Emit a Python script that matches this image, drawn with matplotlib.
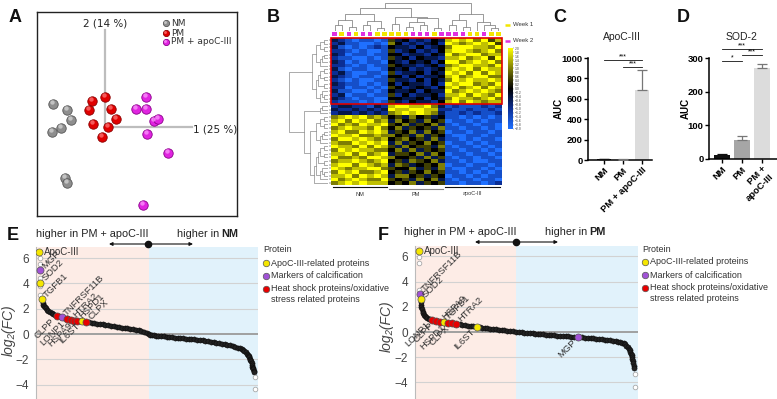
import numpy as np
import matplotlib
matplotlib.use("Agg")
import matplotlib.pyplot as plt
from matplotlib.colors import LinearSegmentedColormap
from matplotlib.patches import Rectangle

plt.rcParams['font.family'] = ['Liberation Sans', 'DejaVu Sans']

# ======================= DATA =======================
# --- A: PCA scores ---
pca_groups = ["NM", "PM", "PM + apoC-III"]
pca_axis_labels = ["1 (25 %)", "2 (14 %)"]
nm_pc1 = [-5.2, -3.8, -3.4, -4.4, -5.3, -4.0, -3.8]
nm_pc2 = [2.3, 1.7, 0.7, -0.1, -0.5, -5.1, -5.6]
pm_pc1 = [0.0, -1.3, -1.6, 0.6, 1.1, -1.2, 0.3, -0.3]
pm_pc2 = [3.0, 2.6, 1.7, 1.8, 0.8, 0.3, 0.0, -1.0]
apo_pc1 = [4.1, 3.1, 4.1, 4.9, 5.3, 4.2, 6.3, 3.8]
apo_pc2 = [3.0, 1.8, 1.8, 0.6, 0.8, -0.7, -2.6, -7.8]

# --- B: heatmap (digits 0..8 -> z = -2..+2) ---
heat_rows = [
    "32101101 53423243 78786857",
    "23110010 64232342 87678785",
    "31010121 43324234 68887768",
    "22101001 52342324 78876786",
    "32011011 44233243 86788677",
    "21100101 53424332 77867858",
    "32010110 43243424 88678786",
    "22101011 54332342 67887768",
    "31011001 43423234 78786877",
    "23100110 52334243 87868687",
    "32101101 44242334 78678866",
    "21010011 53324243 68787787",
    "32110101 42433242 87886768",
    "22011010 54234324 78678687",
    "31100101 43342433 86787876",
    "23011011 52423342 77868768",
    "32101100 44334243 68776786",
    "21110101 53243324 78687677",
    "23322132 78877863 12111212",
    "32232323 87788772 21121121",
    "23323232 67878763 11212112",
    "67878676 45364534 11010101",
    "78687867 36453645 01101011",
    "86768778 54635463 10110110",
    "67877686 46354536 11011010",
    "78668787 35463645 01101101",
    "87786676 64536354 10011011",
    "68878767 45645363 11010110",
    "76687878 36354645 01101011",
    "87768687 53645536 10110101",
    "68787766 46363545 11011010",
    "77868678 35546364 01101101",
    "86676887 64453635 10110110",
    "67787678 45365463 11010011",
    "78868767 36534546 01101101",
    "87677886 54463536 10011010",
    "68786678 45354645 11010101",
    "77868787 36645354 01101011",
    "86787668 54536463 10110110",
    "67878777 45463545 11011012",
]
heat_col_groups = ["NM", "PM", "apoC-III"]
heat_col_weeks = [2, 1, 2, 1, 2, 2, 1, 1, 1, 1, 1, 2, 2, 2, 1, 2, 2, 2, 2, 1, 1, 2, 1, 1]
col_gaps = [2, 4, 1.5, 6, 2, 3.5, 1, 8, 2.5, 5, 1.5, 3, 2, 4.5, 1, 10, 2, 4, 1.5, 6, 3, 2, 1]
row_gaps = [1, 2, 1, 3, 1, 1.5, 2, 4, 1, 2, 1, 2.5, 1, 3, 1.5, 1, 2,
            10,
            1.5, 2, 6, 1, 2, 1, 3, 1, 1.5, 2, 4.5, 1, 2, 1, 2.5, 1, 3, 1.5, 1, 2, 3.5]
week_labels = ["Week 1", "Week 2"]

# --- C / D: bar charts ---
c_groups = ["NM", "PM", "PM + apoC-III"]
c_auc = [5, 4, 685]
c_err = [2, 1, 195]
d_groups = ["NM", "PM", "PM +\napoC-III"]
d_auc = [13, 55, 270]
d_err = [2, 13, 13]

# --- E: ranked log2(FC), PM + apoC-III vs NM ---
e_rank = [30, 33, 36, 40, 45, 50, 55, 62, 70, 78, 86, 95, 105, 115, 125, 138, 150, 162, 175, 188,
          200, 212, 225, 238, 250, 262, 275, 288, 300, 312, 325, 338, 350, 363, 375, 388, 400, 412,
          425, 438, 450, 462, 475, 488, 498, 508, 515, 522, 530, 540, 550, 562, 575, 588, 600, 612,
          625, 638, 650, 663, 675, 688, 700, 712, 725, 738, 750, 762, 775, 788, 800, 813, 825, 838,
          850, 862, 875, 888, 898, 908, 918, 926, 933, 939, 945, 950, 955, 958, 961, 964, 966, 968,
          971, 973, 975, 977, 978, 980, 981]
e_fc = [2.43, 2.32, 2.22, 2.12, 2.02, 1.93, 1.85, 1.77, 1.70, 1.62, 1.52, 1.46, 1.40, 1.34, 1.29,
        1.23, 1.18, 1.13, 1.09, 1.06, 1.03, 1.00, 0.97, 0.93, 0.90, 0.87, 0.83, 0.79, 0.76, 0.72,
        0.69, 0.65, 0.62, 0.58, 0.55, 0.51, 0.48, 0.44, 0.41, 0.37, 0.33, 0.29, 0.24, 0.17, 0.11,
        0.02, -0.05, -0.09, -0.11, -0.13, -0.15, -0.17, -0.19, -0.21, -0.23, -0.25, -0.28, -0.30,
        -0.32, -0.34, -0.36, -0.39, -0.41, -0.43, -0.46, -0.48, -0.51, -0.55, -0.58, -0.62, -0.65,
        -0.69, -0.73, -0.77, -0.81, -0.85, -0.90, -0.95, -1.01, -1.07, -1.14, -1.21, -1.27, -1.35,
        -1.45, -1.55, -1.67, -1.76, -1.85, -1.96, -2.06, -2.17, -2.30, -2.45, -2.59, -2.70, -2.80,
        -2.90, -2.99]
e_open_rank = [18, 18, 18, 19, 20, 985, 985]
e_open_fc = [6.0, 5.56, 4.42, 3.76, 3.1, -3.39, -4.31]
e_hl_name = ["ApoC-III", "MGP", "SOD2", "TGFB1", "CLPP", "TNFRSF11B", "LONP1", "HTRA2",
             "HSPA9", "HSPD1", "IL6ST", "CLPX"]
e_hl_rank = [15, 18, 18, 27, 93, 116, 138, 156, 171, 186, 206, 225]
e_hl_fc = [6.48, 5.03, 4.02, 2.75, 1.42, 1.32, 1.21, 1.11, 1.05, 1.03, 1.03, 0.97]
e_hl_cat = ["apo", "calc", "apo", "apo", "hsp", "calc", "hsp", "hsp", "hsp", "hsp", "apo", "hsp"]
e_hl_side = ["h", "ur", "ur", "ur", "dl", "ur", "dl", "ur", "dl", "ur", "dl", "ur"]
e_split = 509

# --- F: ranked log2(FC), PM + apoC-III vs PM ---
f_rank = [26, 27, 29, 31, 34, 37, 41, 45, 49, 55, 62, 68, 75, 84, 93, 102, 112, 125, 137, 150,
          162, 175, 187, 200, 212, 225, 238, 250, 262, 277, 290, 300, 312, 325, 337, 350, 362, 375,
          388, 400, 412, 425, 438, 453, 465, 478, 490, 502, 515, 527, 540, 550, 561, 575, 588, 600,
          612, 625, 638, 650, 662, 675, 688, 700, 711, 725, 738, 750, 762, 775, 788, 800, 812, 825,
          838, 850, 861, 875, 888, 900, 912, 920, 928, 936, 942, 948, 953, 958, 963, 966, 969, 971,
          973, 975, 977, 978, 980, 981]
f_fc = [2.35, 2.14, 1.95, 1.80, 1.61, 1.48, 1.37, 1.28, 1.21, 1.13, 1.05, 1.00, 0.95, 0.91, 0.88,
        0.85, 0.82, 0.78, 0.75, 0.72, 0.69, 0.66, 0.63, 0.60, 0.57, 0.54, 0.51, 0.48, 0.45, 0.42,
        0.38, 0.35, 0.31, 0.28, 0.26, 0.23, 0.20, 0.18, 0.15, 0.12, 0.10, 0.07, 0.05, 0.03, 0.00,
        -0.02, -0.04, -0.06, -0.09, -0.11, -0.13, -0.15, -0.16, -0.19, -0.21, -0.23, -0.25, -0.27,
        -0.29, -0.31, -0.33, -0.34, -0.35, -0.36, -0.37, -0.39, -0.41, -0.43, -0.45, -0.47, -0.49,
        -0.51, -0.53, -0.56, -0.58, -0.60, -0.63, -0.67, -0.71, -0.75, -0.79, -0.83, -0.87, -0.90,
        -0.98, -1.08, -1.20, -1.31, -1.43, -1.58, -1.74, -1.86, -1.96, -2.13, -2.31, -2.49, -2.70,
        -2.88]
f_open_rank = [19, 19, 20, 985, 985]
f_open_fc = [5.98, 5.5, 3.33, -3.36, -4.34]
f_hl_name = ["ApoC-III", "TNFRSF11B", "SOD2", "LONP1", "CLPP", "HSPA9", "TGFB1", "HSPD1",
             "CLPX", "HTRA2", "IL6ST", "MGP"]
f_hl_rank = [19, 22, 25, 75, 93, 110, 128, 146, 164, 183, 277, 732]
f_hl_fc = [6.43, 3.02, 2.59, 0.95, 0.90, 0.83, 0.78, 0.72, 0.69, 0.64, 0.42, -0.40]
f_hl_cat = ["apo", "calc", "apo", "hsp", "hsp", "hsp", "apo", "hsp", "hsp", "hsp", "apo", "calc"]
f_hl_side = ["h", "ur", "ur", "dl", "dl", "ur", "ur", "dl", "dl", "ur", "dl", "dl"]
f_split = 453

legend_labels = ["ApoC-III-related proteins", "Markers of calcification",
                 "Heat shock proteins/oxidative\nstress related proteins"]

# ======================= FIGURE =======================
W, H = 777, 399
fig = plt.figure(figsize=(W / 100, H / 100), dpi=100)


def rect(x0, y0, x1, y1):
    return [x0 / W, 1 - y1 / H, (x1 - x0) / W, (y1 - y0) / H]


# ---------------- A: PCA ----------------
axA = fig.add_axes(rect(37, 12, 237, 216))
axA.set_xlim(-6.8, 13.2)
axA.set_ylim(-8.9, 11.5)
axA.set_xticks([]); axA.set_yticks([])
for s in axA.spines.values():
    s.set_linewidth(1.0); s.set_color('#222')
axA.plot([0, 0], [0, 9.7], color='#BDBDBD', lw=1.6, zorder=1)
axA.plot([0, 8.7], [0, 0], color='#BDBDBD', lw=1.6, zorder=1)
axA.text(0, 10.4, pca_axis_labels[1], ha='center', va='center', fontsize=7.5,
         family=['DejaVu Sans'], color='#222')
axA.text(8.8, -0.3, pca_axis_labels[0], ha='left', va='center', fontsize=7.5,
         family=['DejaVu Sans'], color='#222')

ball_styles = [('#8E8E8E', '#555555', '#DADADA'),
               ('#E00000', '#8A0000', '#FF8080'),
               ('#E024E0', '#8A008A', '#FFA0FF')]


def balls(ax, x, y, st, s=46, trans=None, dx=-0.14, dy=0.16):
    kw = {} if trans is None else {'transform': trans}
    x = np.asarray(x, float); y = np.asarray(y, float)
    ax.scatter(x, y, s=s, c=st[0], edgecolors=st[1], linewidths=0.6, zorder=3, **kw)
    ax.scatter(x + dx, y + dy, s=s * 0.22, c=st[2], alpha=0.7, linewidths=0, zorder=4, **kw)


balls(axA, nm_pc1, nm_pc2, ball_styles[0])
balls(axA, pm_pc1, pm_pc2, ball_styles[1])
balls(axA, apo_pc1, apo_pc2, ball_styles[2])
for i, g in enumerate(pca_groups):
    yy = [0.946, 0.897, 0.853][i]
    balls(axA, [0.645], [yy], ball_styles[i], s=20, trans=axA.transAxes, dx=-0.004, dy=0.006)
    axA.text(0.67, yy, g, transform=axA.transAxes, fontsize=6.5, va='center',
             family=['DejaVu Sans'], color='#333')

# ---------------- B: heatmap ----------------
M = (np.array([[int(c) for c in r.replace(' ', '')] for r in heat_rows]) - 4) / 2.0
nrow, ncol = M.shape
cmap = LinearSegmentedColormap.from_list(
    'by', ['#1F70FF', '#0C2F95', '#000000', '#7D7D05', '#FFFF00'])
axH = fig.add_axes(rect(331, 38, 502, 185))
im = axH.imshow(M, aspect='auto', cmap=cmap, vmin=-2, vmax=2, interpolation='nearest')
axH.set_xticks([])
axH.set_yticks(np.arange(nrow))
axH.set_yticklabels([])
axH.tick_params(axis='y', length=1.8, width=0.35, color='#333', pad=0)
for s in axH.spines.values():
    s.set_visible(False)
top_n = 18
axH.add_patch(Rectangle((-0.5, -0.5), ncol, top_n, fill=False, ec='#E00000', lw=1.2,
                        clip_on=False, zorder=5))


def dendro(gaps, lo, hi, segs):
    if lo == hi:
        return float(lo), 0.0
    k = lo + int(np.argmax(gaps[lo:hi]))
    lp, lh = dendro(gaps, lo, k, segs)
    rp, rh = dendro(gaps, k + 1, hi, segs)
    h = gaps[k]
    segs.append(([lp, lp, rp, rp], [lh, h, h, rh]))
    return (lp + rp) / 2, h


# column dendrogram
axCD = fig.add_axes(rect(331, 2, 502, 31))
segs = []
dendro(col_gaps, 0, ncol - 1, segs)
for xs, ys in segs:
    axCD.plot(xs, ys, color='#8A8A8A', lw=0.6)
axCD.set_xlim(-0.5, ncol - 0.5)
axCD.set_ylim(0, max(col_gaps) * 1.02)
axCD.axis('off')

# week bar
axW = fig.add_axes(rect(331, 32, 502, 36))
wcol = {1: '#F2E600', 2: '#E030E0'}
axW.bar(np.arange(ncol), [1] * ncol, width=0.62, color=[wcol[w] for w in heat_col_weeks])
axW.set_xlim(-0.5, ncol - 0.5); axW.set_ylim(0, 1)
axW.axis('off')

# row dendrogram
axRD = fig.add_axes(rect(288, 38, 328, 185))
segs = []
dendro(row_gaps, 0, nrow - 1, segs)
for xs, ys in segs:
    axRD.plot(ys, xs, color='#8A8A8A', lw=0.5)
axRD.set_ylim(nrow - 0.5, -0.5)
axRD.set_xlim(max(row_gaps) * 1.02, 0)
axRD.axis('off')

# colorbar
cax = fig.add_axes(rect(508, 48, 513, 129))
cb = fig.colorbar(im, cax=cax, ticks=np.round(np.arange(-2.0, 2.01, 0.2), 1))
cb.ax.tick_params(labelsize=2.4, length=1, width=0.3, pad=0.5, colors='#444')
cb.outline.set_visible(False)

# overlay for annotations in pixel coordinates
ov = fig.add_axes([0, 0, 1, 1], facecolor='none', zorder=20)
ov.set_xlim(0, W); ov.set_ylim(H, 0); ov.axis('off')

# group bars below heatmap
grp_x = [(332, 388), (388, 444), (444, 501)]
for i, g in enumerate(heat_col_groups):
    x0, x1 = grp_x[i]
    yl = 189 if i == 1 else 187
    ov.plot([x0 + 1, x1 - 1], [yl, yl], color='#888' if i == 1 else '#111', lw=0.8)
    ov.text((x0 + x1) / 2, 194, g, fontsize=4, ha='center', va='center', color='#333')

# week legend
for i, (lab, c) in enumerate(zip(week_labels, ['#F2E600', '#E030E0'])):
    yy = [25, 41][i]
    ov.plot([505, 510], [yy, yy], color=c, lw=1.8, solid_capstyle='butt')
    ov.text(513, yy, lab, fontsize=4.3, va='center', color='#333')

# ---------------- C / D: bars ----------------
bar_cols = ['#111111', '#A6A6A6', '#DCDCDC']


def bar_panel(r, vals, errs, labels, ylim, yticks, xlim, width, sigs, title, tx, aucx):
    ax = fig.add_axes(rect(*r))
    xs = np.arange(3)
    ax.bar(xs, vals, width=width, color=bar_cols, zorder=2)
    for x, v, e, c in zip(xs, vals, errs, bar_cols):
        ax.errorbar([x], [v], yerr=[[0], [e]], fmt='none', ecolor='#777' if x > 0 else '#111',
                    elinewidth=0.9, capsize=3.5, capthick=0.9, zorder=3)
    ax.set_xlim(*xlim); ax.set_ylim(*ylim)
    ax.set_yticks(yticks)
    ax.set_xticks(xs)
    ax.set_xticklabels(labels, rotation=45, ha='right', rotation_mode='anchor',
                       fontsize=6.8, fontweight='bold', multialignment='right')
    for lab in ax.get_yticklabels():
        lab.set_fontweight('bold')
    ax.tick_params(axis='y', labelsize=6.8, length=3, width=1.0, pad=1)
    ax.tick_params(axis='x', length=3, width=1.0, pad=1)
    for s in ['top', 'right']:
        ax.spines[s].set_visible(False)
    for s in ['left', 'bottom']:
        ax.spines[s].set_linewidth(1.1)
    for (a, b, yv, star) in sigs:
        ax.plot([a, b], [yv, yv], color='#111', lw=0.6, clip_on=False)
        ax.text((a + b) / 2, yv, star, ha='center', va='bottom', fontsize=5, clip_on=False)
    ov.text(tx, 37, title, ha='center', va='center', fontsize=7.5, color='#222')
    ov.text(aucx, 108, 'AUC', rotation=90, ha='center', va='center', fontsize=7,
            fontweight='bold')
    return ax


bar_panel((588, 58, 652, 160), c_auc, c_err, c_groups, (0, 1000), range(0, 1001, 200),
          (-0.84, 2.53), 0.74, [(0, 2, 980, '***'), (1, 2, 912, '***')], 'ApoC-III', 622, 559)
bar_panel((709, 58, 777, 159), d_auc, d_err, d_groups, (0, 300), range(0, 301, 100),
          (-0.65, 2.75), 0.8,
          [(0, 1, 291, '*'), (0, 2, 327, '***'), (1, 2, 309, '***')], 'SOD-2', 742, 686)

# ---------------- E / F: rank plots ----------------
cat_col = {'apo': '#F5E600', 'calc': '#A152D6', 'hsp': '#E80000'}


def rank_panel(r, ylim, split, rk, fc, ork, ofc, names, hrk, hfc, cats, sides):
    ax = fig.add_axes(rect(*r))
    ax.set_xlim(0, 1000); ax.set_ylim(*ylim)
    ax.axvspan(0, split, color='#FDECE6', lw=0, zorder=0)
    ax.axvspan(split, 1000, color='#E1F2FB', lw=0, zorder=0)
    for yv in [-4, -2, 2, 4, 6]:
        ax.axhline(yv, color='#D2D2D2', lw=0.8, zorder=1)
    ax.axhline(0, color='#A0A0A0', lw=1.4, zorder=1)
    ax.scatter(rk, fc, s=14, c='#222222', edgecolors='#000', linewidths=0.3, zorder=3)
    ax.scatter(ork, ofc, s=11, facecolors='white', edgecolors='#A8A8A8', linewidths=0.6,
               zorder=3)
    for n, x, y, c, sd in zip(names, hrk, hfc, cats, sides):
        ax.scatter([x], [y], s=26, c=cat_col[c], edgecolors='#555', linewidths=0.5, zorder=5)
        if sd == 'h':
            ax.annotate(n, (x, y), xytext=(3.5, 0), textcoords='offset points', fontsize=7,
                        ha='left', va='center', color='#333', zorder=6)
        elif sd == 'ur':
            ax.annotate(n, (x, y), xytext=(2.5, 2.5), textcoords='offset points', fontsize=6.8,
                        ha='left', va='center', rotation=45, rotation_mode='anchor',
                        color='#333', zorder=6)
        else:
            ax.annotate(n, (x, y), xytext=(-2.5, -2.5), textcoords='offset points',
                        fontsize=6.8, ha='right', va='center', rotation=45,
                        rotation_mode='anchor', color='#333', zorder=6)
    ax.set_xticks([])
    ax.set_yticks([-4, -2, 0, 2, 4, 6])
    ax.set_yticklabels(['\u22124', '\u22122', '0', '2', '4', '6'])
    ax.tick_params(axis='y', length=0, labelsize=8.5, labelcolor='#444', pad=5)
    for s in ['top', 'right', 'bottom']:
        ax.spines[s].set_visible(False)
    ax.spines['left'].set_color('#BBBBBB')
    return ax


rank_panel((36, 247, 258, 399), (-5.14, 6.88), e_split, e_rank, e_fc, e_open_rank, e_open_fc,
           e_hl_name, e_hl_rank, e_hl_fc, e_hl_cat, e_hl_side)
rank_panel((415, 246, 638, 399), (-5.32, 6.83), f_split, f_rank, f_fc, f_open_rank, f_open_fc,
           f_hl_name, f_hl_rank, f_hl_fc, f_hl_cat, f_hl_side)

# y labels
for x, y in [(9, 330), (387, 326)]:
    ov.text(x, y, 'log\u2082(FC)', rotation=90, ha='center', va='center', fontsize=10,
            style='italic', color='#444')

# headers + arrows
for (cx, hx, bx, lab, ax0, ax1, dot, yh, ya) in [
        (92, 219, 221, 'NM', 109, 193, 148, 234, 244),
        (460, 587, 589, 'PM', 475, 558, 516, 232, 242)]:
    ov.text(cx, yh, 'higher in PM + apoC-III', ha='center', va='center', fontsize=7.8,
            color='#222')
    ov.text(hx, yh, 'higher in', ha='right', va='center', fontsize=7.8, color='#222')
    ov.text(bx, yh, lab, ha='left', va='center', fontsize=7.8, fontweight='bold', color='#222')
    ov.annotate('', xy=(ax0, ya), xytext=(ax1, ya),
                arrowprops=dict(arrowstyle='<|-|>', lw=0.8, color='#111',
                                mutation_scale=5, shrinkA=0, shrinkB=0))
    ov.scatter([dot], [ya], s=20, c='#111', zorder=25)

# legends E/F
for lx, ly in [(263, 250), (642, 249)]:
    ov.text(lx, ly, 'Protein', fontsize=6.5, va='center', color='#333')
    for i, (c, lab) in enumerate(zip(['apo', 'calc', 'hsp'], legend_labels)):
        yy = ly + 13 * (i + 1)
        ov.scatter([lx + 3], [yy], s=22, c=cat_col[c], edgecolors='#555', linewidths=0.5)
        if i < 2:
            ov.text(lx + 8, yy, lab, fontsize=6.5, va='center', color='#333')
        else:
            ov.text(lx + 8, yy - 5, lab, fontsize=6.5, va='top', color='#333',
                    linespacing=1.3)

# panel letters
for t, x, y in [('A', 15, 18), ('B', 273, 17), ('C', 560, 18), ('D', 683, 18),
                ('E', 13, 235), ('F', 383, 235)]:
    ov.text(x, y, t, fontsize=13, fontweight='bold', ha='center', va='center', color='#111')

fig.savefig('out.png', dpi=100)
